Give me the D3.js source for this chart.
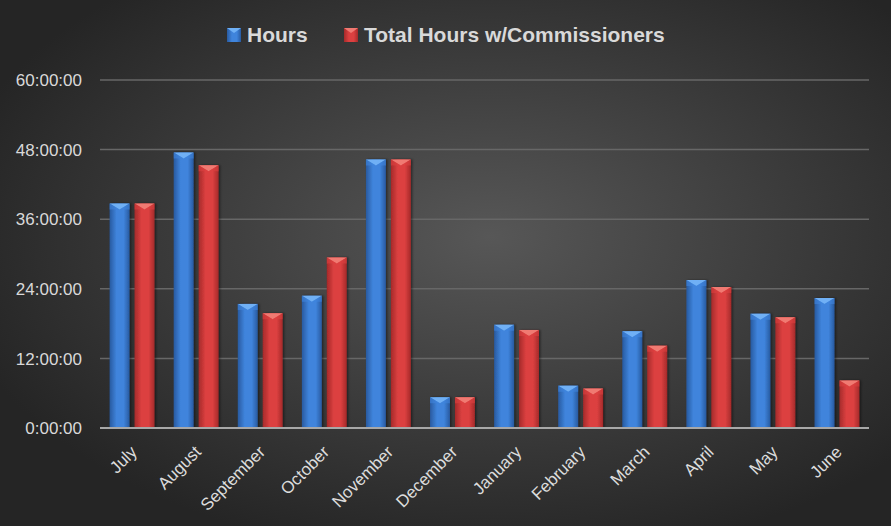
<!DOCTYPE html>
<meta charset="UTF-8">
<script src="https://d3js.org/d3.v7.min.js"></script>
<style>
  body { margin: 0; background: #262626; }
  text { font-family: "Liberation Sans", Arial, sans-serif; }
</style>
<svg id="chart" width="891" height="526"></svg>
<script>

// data (hours)
var months = ["July", "August", "September", "October", "November", "December",
              "January", "February", "March", "April", "May", "June"];
var hours = [38.7, 47.5, 21.4, 22.8, 46.3, 5.3, 17.8, 7.3, 16.7, 25.5, 19.7, 22.4];
var totalHours = [38.7, 45.3, 19.8, 29.4, 46.3, 5.3, 16.9, 6.8, 14.2, 24.3, 19.1, 8.2];
var seriesNames = ["Hours", "Total Hours w/Commissioners"];
var yTicks = [0, 12, 24, 36, 48, 60];

var svg = d3.select("#chart"),
  width = +svg.attr("width"),
  height = +svg.attr("height");

var margin = {left: 100, right: 22, top: 80, bottom: 98};

var defs = svg.append("defs");

// background radial gradient
var bg = defs.append("radialGradient").attr("id", "bg")
  .attr("cx", "55%").attr("cy", "45%").attr("r", "62%");
bg.append("stop").attr("offset", "0%").attr("stop-color", "#575757");
bg.append("stop").attr("offset", "100%").attr("stop-color", "#252525");

svg.append("rect")
  .attr("width", width).attr("height", height)
  .attr("fill", "url(#bg)");

// soft shadow for bars
var sh = defs.append("filter").attr("id", "shadow")
  .attr("x", "-30%").attr("y", "-10%").attr("width", "160%").attr("height", "120%");
sh.append("feDropShadow").attr("dx", 1.5).attr("dy", 0).attr("stdDeviation", 1.2)
  .attr("flood-color", "#000").attr("flood-opacity", 0.45);

// bar gradients
var colors = [
  {id: "blue", dark: "#285aa0", mid: "#3f84dc", cap: "#6fb0f5"},
  {id: "red", dark: "#a52a2a", mid: "#dc4040", cap: "#f07a72"}
];
colors.forEach(function(c) {
  var g = defs.append("linearGradient").attr("id", "g_" + c.id)
    .attr("x1", "0%").attr("x2", "100%").attr("y1", "0%").attr("y2", "0%");
  g.append("stop").attr("offset", "0%").attr("stop-color", c.dark);
  g.append("stop").attr("offset", "35%").attr("stop-color", c.mid);
  g.append("stop").attr("offset", "70%").attr("stop-color", c.mid);
  g.append("stop").attr("offset", "100%").attr("stop-color", c.dark);
});

var x0 = d3.scaleBand()
  .domain(months)
  .range([margin.left, width - margin.right])
  .paddingInner(0.3)
  .paddingOuter(0.15);

var x1 = d3.scaleBand()
  .domain([0, 1])
  .range([0, x0.bandwidth()])
  .paddingInner(0.2);

var y = d3.scaleLinear()
  .domain([0, 60])
  .range([height - margin.bottom, margin.top]);

// gridlines
svg.append("g")
  .selectAll("line")
  .data(yTicks.slice(1))
  .enter().append("line")
    .attr("x1", margin.left).attr("x2", width - margin.right)
    .attr("y1", function(d) { return y(d); })
    .attr("y2", function(d) { return y(d); })
    .attr("stroke", "#676767")
    .attr("stroke-width", 1.5);

// y labels
svg.append("g")
  .selectAll("text")
  .data(yTicks)
  .enter().append("text")
    .attr("x", 82)
    .attr("y", function(d) { return y(d); })
    .attr("dy", "0.36em")
    .attr("text-anchor", "end")
    .attr("fill", "#d9d9d9")
    .style("font-size", "17px")
    .text(function(d) { return d + ":00:00"; });

// bars
var series = [hours, totalHours];
var groups = svg.append("g")
  .selectAll("g")
  .data(months)
  .enter().append("g")
    .attr("transform", function(d) { return "translate(" + x0(d) + ",0)"; });

groups.each(function(m, i) {
  var g = d3.select(this);
  series.forEach(function(s, k) {
    var bx = x1(k), bw = x1.bandwidth(), top = y(s[i]), base = y(0);
    var bar = g.append("g").attr("filter", "url(#shadow)");
    bar.append("rect")
      .attr("x", bx).attr("y", top)
      .attr("width", bw).attr("height", base - top)
      .attr("fill", "url(#g_" + colors[k].id + ")");
    bar.append("path")
      .attr("d", "M" + bx + "," + top + "L" + (bx + bw) + "," + top +
                 "L" + (bx + bw / 2) + "," + (top + 6) + "Z")
      .attr("fill", colors[k].cap);
    bar.append("path")
      .attr("d", "M" + bx + "," + top + "L" + (bx + bw / 2) + "," + (top + 6) +
                 "L" + bx + "," + (top + 6) + "Z")
      .attr("fill", colors[k].mid).attr("opacity", 0.6);
    bar.append("path")
      .attr("d", "M" + (bx + bw) + "," + top + "L" + (bx + bw / 2) + "," + (top + 6) +
                 "L" + (bx + bw) + "," + (top + 6) + "Z")
      .attr("fill", colors[k].mid).attr("opacity", 0.6);
  });
});

// x axis line
svg.append("line")
  .attr("x1", margin.left).attr("x2", width - margin.right)
  .attr("y1", y(0)).attr("y2", y(0))
  .attr("stroke", "#a8a8a8")
  .attr("stroke-width", 2);

// x labels
svg.append("g")
  .selectAll("text")
  .data(months)
  .enter().append("text")
    .attr("transform", function(d) {
      return "translate(" + (x0(d) + x0.bandwidth() / 2 + 6) + "," + (y(0) + 25) + ") rotate(-45)";
    })
    .attr("text-anchor", "end")
    .attr("fill", "#dcdcdc")
    .style("font-size", "17px")
    .text(function(d) { return d; });

// legend
var legend = svg.append("g");
var legendItems = [{x: 227, name: seriesNames[0], c: colors[0]},
                   {x: 344, name: seriesNames[1], c: colors[1]}];
legendItems.forEach(function(l) {
  legend.append("rect")
    .attr("x", l.x).attr("y", 28)
    .attr("width", 14).attr("height", 14)
    .attr("fill", "url(#g_" + l.c.id + ")");
  legend.append("path")
    .attr("d", "M" + l.x + ",28L" + (l.x + 14) + ",28L" + (l.x + 7) + ",33Z")
    .attr("fill", l.c.cap);
  legend.append("text")
    .attr("x", l.x + 20).attr("y", 42)
    .attr("fill", "#d9d9d9")
    .style("font-size", "21px")
    .style("font-weight", "bold")
    .text(l.name);
});

</script>
